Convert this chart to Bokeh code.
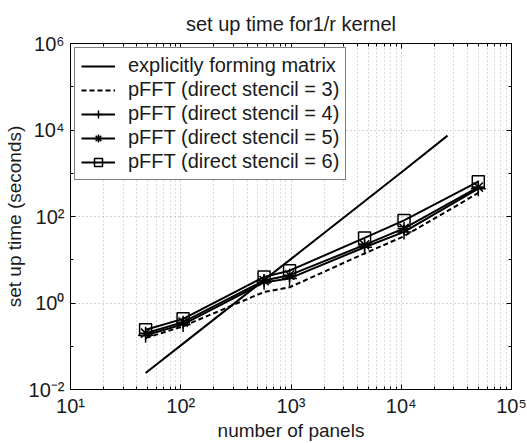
from bokeh.plotting import figure
from bokeh.models import FixedTicker, LogAxis, CustomJSTickFormatter, Legend, LegendItem
from bokeh.embed import file_html
from bokeh.resources import INLINE

# ---- data ----
panels = [48, 105, 570, 970, 4650, 10600, 50000]
explicit_panels = [48, 105, 570, 970, 4650, 10600, 26300]
explicit_time = [0.024, 0.115, 3.4, 9.8, 225, 1170, 7400]
stencil3 = [0.155, 0.29, 1.8, 2.3, 14, 35, 350]
stencil4 = [0.18, 0.32, 3.0, 3.7, 19.5, 44, 440]
stencil5 = [0.20, 0.36, 3.3, 4.4, 22, 53, 480]
stencil6 = [0.24, 0.43, 4.0, 5.6, 32, 81, 640]

labels = [
    "explicitly forming matrix",
    "pFFT (direct stencil = 3)",
    "pFFT (direct stencil = 4)",
    "pFFT (direct stencil = 5)",
    "pFFT (direct stencil = 6)",
]

x_ticks = [10, 100, 1000, 10000, 100000]
y_ticks = [1e-2, 1e0, 1e2, 1e4, 1e6]
x_minor = [m * d for d in [10, 100, 1000, 10000] for m in range(2, 10)]
y_minor = [1e-1, 1e1, 1e3, 1e5]

FONT = "Liberation Sans"
INK = "#1a1a1a"

p = figure(width=527, height=443, x_axis_type="log", y_axis_type="log",
           x_range=(10, 1e5), y_range=(1e-2, 1e6),
           output_backend="svg", toolbar_location=None,
           min_border_left=68, min_border_right=16, min_border_top=43, min_border_bottom=54,
           title="set up time for1/r kernel")
p.background_fill_color = "white"
p.border_fill_color = "white"
p.outline_line_color = "black"
p.outline_line_width = 1

p.title.align = "center"
p.title.text_font = FONT
p.title.text_font_size = "20px"
p.title.text_font_style = "normal"
p.title.text_color = INK
p.title.standoff = 18

sup_code = """
const sup = {"0":"\u2070","1":"\u00b9","2":"\u00b2","3":"\u00b3","4":"\u2074","5":"\u2075","6":"\u2076","7":"\u2077","8":"\u2078","9":"\u2079","-":"\u207b"};
const e = Math.round(Math.log10(tick));
return "10" + String(e).split("").map(c => sup[c]).join("");
"""

xt = FixedTicker(ticks=x_ticks, minor_ticks=x_minor)
yt = FixedTicker(ticks=y_ticks, minor_ticks=y_minor)

for ax, tk in ((p.xaxis[0], xt), (p.yaxis[0], yt)):
    ax.ticker = tk
    ax.formatter = CustomJSTickFormatter(code=sup_code)
    ax.major_label_text_font = FONT
    ax.major_label_text_font_size = "20px"
    ax.major_label_text_color = INK
    ax.axis_label_text_font = FONT
    ax.axis_label_text_font_size = "19px"
    ax.axis_label_text_font_style = "normal"
    ax.axis_label_text_color = INK
    ax.axis_line_color = "black"
    ax.major_tick_line_color = "black"
    ax.minor_tick_line_color = "black"
    ax.major_tick_in = 5
    ax.major_tick_out = 0
    ax.minor_tick_in = 3
    ax.minor_tick_out = 0

p.xaxis.axis_label = "number of panels"
p.yaxis.axis_label = "set up time (seconds)"
p.xaxis.major_label_standoff = 5
p.xaxis.axis_label_standoff = 0
p.yaxis.major_label_standoff = 6
p.yaxis.axis_label_standoff = 1

for side, tk in (("above", xt), ("right", yt)):
    a = LogAxis(ticker=tk, formatter=CustomJSTickFormatter(code='return "";'),
                major_label_text_font_size="1px", major_label_standoff=0,
                major_label_text_alpha=0,
                major_tick_in=5, major_tick_out=0, minor_tick_in=3, minor_tick_out=0,
                axis_line_color="black", major_tick_line_color="black",
                minor_tick_line_color="black")
    p.add_layout(a, side)

p.xgrid.grid_line_color = "#a0a0a0"
p.xgrid.grid_line_dash = "1 3"
p.xgrid.minor_grid_line_color = "#b5b5b5"
p.xgrid.minor_grid_line_dash = "1 3"
p.ygrid.grid_line_color = "#a0a0a0"
p.ygrid.grid_line_dash = "1 3"
p.ygrid.minor_grid_line_color = None

LW = 2
r_exp = p.line(explicit_panels, explicit_time, line_color="black", line_width=LW)
r3 = p.line(panels, stencil3, line_color="black", line_width=LW, line_dash="5 3")
r4 = p.line(panels, stencil4, line_color="black", line_width=LW)
m4 = p.scatter(panels, stencil4, marker="cross", size=15, line_color="black", line_width=1.5)
r5 = p.line(panels, stencil5, line_color="black", line_width=LW)
m5 = p.scatter(panels, stencil5, marker="asterisk", size=13, line_color="black", line_width=1.5)
r6 = p.line(panels, stencil6, line_color="black", line_width=LW)
m6 = p.scatter(panels, stencil6, marker="square", size=12, fill_color=None,
               line_color="black", line_width=1.5)

items = [
    LegendItem(label=labels[0], renderers=[r_exp]),
    LegendItem(label=labels[1], renderers=[r3]),
    LegendItem(label=labels[2], renderers=[r4, m4]),
    LegendItem(label=labels[3], renderers=[r5, m5]),
    LegendItem(label=labels[4], renderers=[r6, m6]),
]
legend = Legend(items=items, location="top_left")
legend.margin = 4
legend.padding = 6
legend.spacing = 1
legend.glyph_width = 34
legend.glyph_height = 20
legend.label_height = 20
legend.label_standoff = 13
legend.label_text_font = FONT
legend.label_text_font_size = "20px"
legend.label_text_color = INK
legend.border_line_color = "black"
legend.border_line_width = 1
legend.background_fill_color = "white"
legend.background_fill_alpha = 1
p.add_layout(legend)

open("out.html", "w").write(file_html(p, INLINE))
